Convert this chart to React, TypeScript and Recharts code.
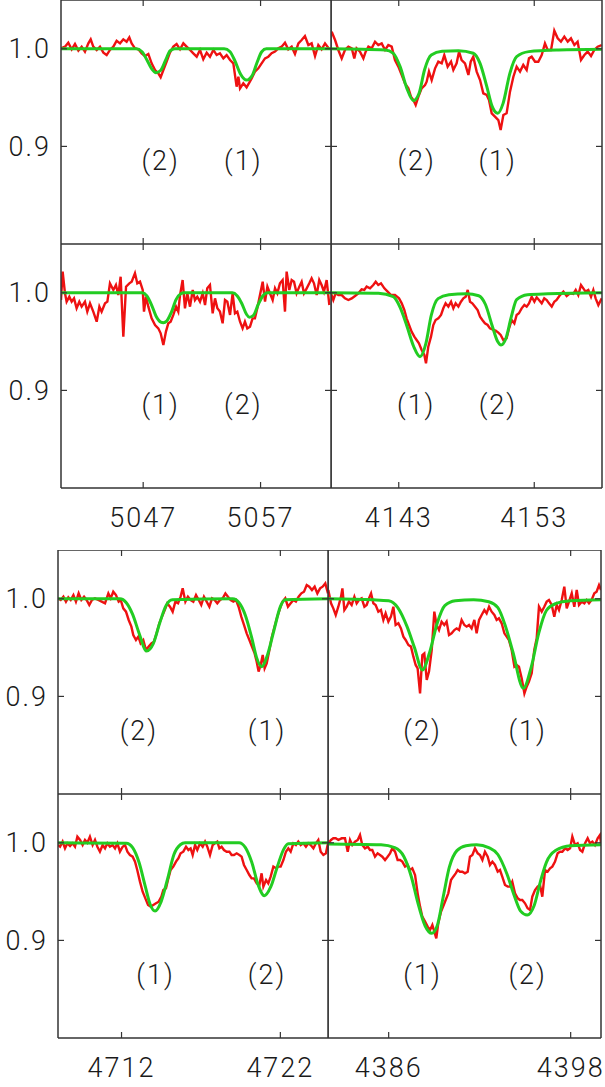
import React from "react"
import { LineChart, Line, XAxis, YAxis, ReferenceLine, ReferenceDot } from "recharts"

type Pt = [number, number]
type Lbl = { x: number; y: number; text: string }

const RED = "#ee1111"
const GREEN = "#22cc22"
const FRAME = "#333333"
const INK = "#1a1a1a"
const FONT = "Roboto, 'Liberation Sans', Arial, sans-serif"

// shared flux axis
const yDomain: [number, number] = [0.8, 1.05]
const yTicks = [0.9, 1.0]

// wavelength windows
const xDomain5050: [number, number] = [5040, 5063]
const xTicks5050 = [5047, 5057]
const xDomain4148: [number, number] = [4138, 4158]
const xTicks4148 = [4143, 4153]
const xDomain4716: [number, number] = [4708, 4725]
const xTicks4716 = [4712, 4722]
const xDomain4391: [number, number] = [4382, 4400]
const xTicks4391 = [4386, 4398]

// ---- top group, row 1 ----
const obsA: Pt[] = [[5040.0,1.0005],[5040.34,1.0022],[5040.62,1.0063],[5040.91,0.9995],[5041.19,1.0049],[5041.48,0.9981],[5041.76,1.0022],[5042.04,0.9971],[5042.33,1.0056],[5042.53,1.0097],[5042.75,1.0022],[5043.04,0.9988],[5043.32,1.0022],[5043.61,0.996],[5043.89,0.9936],[5044.17,0.9988],[5044.46,1.0022],[5044.74,1.0083],[5045.03,1.0056],[5045.31,1.0097],[5045.59,1.0073],[5045.82,1.0117],[5046.02,1.0056],[5046.3,1.0005],[5046.59,0.9995],[5046.87,0.9954],[5047.15,0.9926],[5047.44,0.9947],[5047.72,0.9851],[5048.01,0.9783],[5048.29,0.9749],[5048.49,0.9708],[5048.72,0.9783],[5049.0,0.9868],[5049.28,0.996],[5049.57,1.0022],[5049.85,1.0049],[5050.14,0.9995],[5050.42,1.0056],[5050.7,1.0022],[5050.99,0.9988],[5051.27,0.9954],[5051.56,0.9919],[5051.84,0.9988],[5052.12,0.9892],[5052.41,0.996],[5052.69,0.9919],[5052.98,0.9988],[5053.26,0.9936],[5053.54,0.9954],[5053.83,0.9902],[5054.11,0.9936],[5054.4,0.9885],[5054.68,0.9851],[5054.96,0.9612],[5055.11,0.9714],[5055.25,0.9595],[5055.53,0.9646],[5055.81,0.9605],[5056.04,0.9653],[5056.24,0.9697],[5056.52,0.9766],[5056.81,0.98],[5057.09,0.9851],[5057.38,0.9902],[5057.66,0.9919],[5057.94,0.9954],[5058.23,0.9971],[5058.51,1.0005],[5058.8,1.0022],[5059.08,1.0063],[5059.36,0.9995],[5059.65,1.0022],[5059.93,0.9947],[5060.22,1.0056],[5060.5,1.009],[5060.78,1.0131],[5061.07,1.0039],[5061.35,1.0056],[5061.64,0.9926],[5061.92,1.0039],[5062.2,0.9995],[5062.49,1.0056],[5062.86,0.9995]]
const fitA: Pt[] = [[5040,1.0],[5046.4,1.0],[5046.9,0.997],[5047.3,0.989],[5047.7,0.98],[5048.1,0.9755],[5048.5,0.978],[5048.9,0.988],[5049.3,0.998],[5049.7,1.0],[5053.9,1.0],[5054.4,0.997],[5054.8,0.988],[5055.3,0.974],[5055.8,0.968],[5056.3,0.973],[5056.7,0.986],[5057.1,0.997],[5057.5,1.0],[5063,1.0]]
const lblA: Lbl[] = [{ x: 5048.49, y: 0.886, text: "(2)" }, { x: 5055.53, y: 0.886, text: "(1)" }]

const obsB: Pt[] = [[4138.05,1.0176],[4138.3,1.009],[4138.54,0.9988],[4138.79,0.9902],[4139.03,0.9988],[4139.28,1.0022],[4139.53,1.0005],[4139.72,0.9902],[4139.89,1.0005],[4140.14,0.9971],[4140.39,0.9902],[4140.56,0.9971],[4140.76,1.0022],[4141.0,1.0005],[4141.25,1.0073],[4141.49,1.0039],[4141.74,1.0056],[4141.99,0.9988],[4142.23,1.0039],[4142.48,1.0022],[4142.72,0.9885],[4142.97,0.9817],[4143.22,0.9732],[4143.46,0.9646],[4143.71,0.9595],[4143.9,0.951],[4144.08,0.9475],[4144.25,0.9424],[4144.45,0.951],[4144.69,0.9595],[4144.94,0.9629],[4145.06,0.9663],[4145.23,0.9766],[4145.43,0.968],[4145.68,0.98],[4145.92,0.9868],[4146.17,0.9851],[4146.36,0.9936],[4146.61,0.9817],[4146.86,0.9868],[4147.03,0.9783],[4147.27,0.9851],[4147.45,0.9971],[4147.64,0.9885],[4147.89,0.9851],[4148.14,0.9732],[4148.31,0.9868],[4148.5,0.9919],[4148.75,0.9766],[4149.0,0.968],[4149.24,0.9544],[4149.49,0.9527],[4149.66,0.9475],[4149.86,0.9339],[4150.1,0.9305],[4150.35,0.927],[4150.52,0.9168],[4150.72,0.9322],[4150.96,0.9339],[4151.21,0.9561],[4151.46,0.9714],[4151.7,0.9817],[4151.95,0.9766],[4152.19,0.9834],[4152.44,0.9783],[4152.61,0.9902],[4152.81,0.9919],[4153.06,0.9868],[4153.3,0.9868],[4153.55,0.9936],[4153.79,1.0056],[4153.99,0.9988],[4154.24,0.9988],[4154.48,1.0186],[4154.73,1.0107],[4154.97,1.0073],[4155.22,1.0124],[4155.47,1.0073],[4155.71,1.0107],[4155.96,1.0039],[4156.2,1.0073],[4156.45,0.9885],[4156.7,0.9936],[4156.94,0.9971],[4157.19,0.9926],[4157.43,0.9988],[4157.68,1.0022],[4157.98,1.0039]]
const fitB: Pt[] = [[4138,1.0],[4142.0,0.9988],[4142.6,0.9954],[4143.1,0.9817],[4143.6,0.9595],[4144.08,0.9469],[4144.5,0.9544],[4144.9,0.9783],[4145.4,0.9936],[4146.2,0.9974],[4147.4,0.998],[4148.5,0.9954],[4149.0,0.9851],[4149.5,0.9612],[4149.9,0.9407],[4150.3,0.9339],[4150.7,0.9441],[4151.2,0.9749],[4151.7,0.9919],[4152.6,0.9971],[4154.8,0.9988],[4158,0.9995]]
const lblB: Lbl[] = [{ x: 4144.32, y: 0.886, text: "(2)" }, { x: 4150.3, y: 0.886, text: "(1)" }]

// ---- top group, row 2 ----
const obsC: Pt[] = [[5040.0,0.9926],[5040.14,1.0217],[5040.34,0.9995],[5040.48,0.9909],[5040.71,0.996],[5040.91,0.9909],[5041.11,0.9943],[5041.33,0.9841],[5041.56,0.9909],[5041.76,0.9858],[5042.04,0.9909],[5042.24,0.9807],[5042.47,0.9892],[5042.75,0.9807],[5043.04,0.9704],[5043.27,0.9858],[5043.46,0.9807],[5043.75,0.9892],[5043.95,0.9909],[5044.17,1.0097],[5044.46,1.0029],[5044.68,1.008],[5044.88,0.9977],[5045.08,1.0165],[5045.31,0.9551],[5045.54,1.0063],[5045.82,1.0097],[5046.02,1.0114],[5046.3,1.02],[5046.5,1.0097],[5046.73,1.0114],[5046.96,1.0029],[5047.07,0.9807],[5047.24,0.996],[5047.44,0.9858],[5047.72,0.9738],[5048.01,0.967],[5048.29,0.9636],[5048.49,0.9585],[5048.72,0.9465],[5048.94,0.9602],[5049.14,0.9687],[5049.34,0.9704],[5049.57,0.9773],[5049.8,0.9858],[5049.99,0.9807],[5050.14,0.9977],[5050.36,1.0131],[5050.56,0.9841],[5050.76,0.9995],[5050.99,0.9858],[5051.22,1.0029],[5051.41,0.9926],[5051.61,0.996],[5051.84,0.9909],[5052.07,0.9995],[5052.27,0.9875],[5052.46,1.0046],[5052.69,1.008],[5052.92,0.979],[5053.12,0.9943],[5053.32,0.9841],[5053.54,0.9807],[5053.77,0.9687],[5053.97,0.9926],[5054.17,0.9909],[5054.4,0.9773],[5054.62,0.9995],[5054.82,0.979],[5055.02,0.9807],[5055.25,0.9704],[5055.47,0.9636],[5055.67,0.9704],[5055.87,0.9636],[5056.1,0.9653],[5056.32,0.9738],[5056.52,0.9738],[5056.72,0.9841],[5056.95,0.9977],[5057.18,1.0114],[5057.38,0.9909],[5057.58,1.0063],[5057.8,0.9995],[5058.03,0.9926],[5058.23,1.0046],[5058.43,0.9995],[5058.65,1.0097],[5058.88,1.0131],[5059.08,0.9807],[5059.22,1.0217],[5059.45,1.0029],[5059.65,1.0131],[5059.85,1.0114],[5060.07,0.9995],[5060.3,1.0063],[5060.5,1.0114],[5060.7,0.9995],[5060.93,1.0046],[5061.15,1.0097],[5061.35,1.0148],[5061.55,1.0097],[5061.78,0.9977],[5062.0,1.0131],[5062.2,1.008],[5062.4,1.0012],[5062.63,1.0131],[5062.86,0.9875]]
const fitC: Pt[] = [[5040,1.0],[5046.9,1.0],[5047.3,0.997],[5047.7,0.988],[5048.1,0.976],[5048.5,0.97],[5048.72,0.9694],[5049.0,0.971],[5049.4,0.98],[5049.8,0.993],[5050.2,0.999],[5050.5,1.0],[5054.6,1.0],[5055.0,0.997],[5055.4,0.989],[5055.8,0.978],[5056.04,0.975],[5056.4,0.977],[5056.8,0.988],[5057.2,0.997],[5057.6,1.0],[5063,1.0]]
const lblC: Lbl[] = [{ x: 5048.49, y: 0.886, text: "(1)" }, { x: 5055.53, y: 0.886, text: "(2)" }]

const obsD: Pt[] = [[4138.0,0.9995],[4138.17,0.9926],[4138.34,0.9995],[4138.54,0.9977],[4138.79,0.9977],[4139.03,0.9943],[4139.28,0.9926],[4139.53,0.9943],[4139.77,0.9967],[4140.02,0.9995],[4140.26,1.0036],[4140.46,1.0029],[4140.63,1.0063],[4140.88,1.0046],[4141.12,1.008],[4141.3,1.0114],[4141.49,1.008],[4141.69,1.0097],[4141.94,1.0046],[4142.18,1.0012],[4142.43,0.9977],[4142.72,0.9977],[4143.02,0.9943],[4143.22,0.9892],[4143.41,0.9824],[4143.58,0.9738],[4143.76,0.967],[4143.95,0.9602],[4144.15,0.9551],[4144.32,0.9516],[4144.49,0.9482],[4144.69,0.9414],[4144.89,0.9363],[4145.01,0.9277],[4145.18,0.9448],[4145.38,0.9551],[4145.55,0.967],[4145.72,0.9721],[4145.92,0.9738],[4146.12,0.9773],[4146.29,0.9841],[4146.46,0.9892],[4146.66,0.9858],[4146.86,0.9909],[4147.03,0.9841],[4147.2,0.9892],[4147.4,0.9858],[4147.59,0.9909],[4147.77,0.9943],[4147.94,0.996],[4148.09,1.0029],[4148.26,0.9909],[4148.43,0.9892],[4148.63,0.9858],[4148.82,0.9824],[4149.0,0.9756],[4149.17,0.9721],[4149.36,0.9687],[4149.56,0.967],[4149.73,0.9636],[4149.98,0.9619],[4150.15,0.9612],[4150.35,0.9592],[4150.52,0.9568],[4150.72,0.9516],[4150.96,0.9534],[4151.14,0.9636],[4151.33,0.9721],[4151.53,0.9687],[4151.7,0.9773],[4151.87,0.979],[4152.07,0.9841],[4152.27,0.9875],[4152.44,0.9858],[4152.61,0.9892],[4152.81,0.996],[4153.01,0.9909],[4153.18,0.9954],[4153.35,0.9926],[4153.55,0.9892],[4153.74,0.9943],[4153.92,0.9926],[4154.09,0.9892],[4154.29,0.9858],[4154.48,0.9909],[4154.65,0.9926],[4154.9,0.9977],[4155.15,1.0012],[4155.39,0.9967],[4155.64,0.9995],[4155.88,0.9988],[4156.06,1.0029],[4156.25,0.9977],[4156.45,1.008],[4156.62,1.0046],[4156.79,1.0012],[4156.99,1.0029],[4157.19,0.996],[4157.36,1.0029],[4157.53,0.9943],[4157.73,0.9875],[4157.98,0.9943]]
const fitD: Pt[] = [[4138,1.0],[4141.5,0.9995],[4142.6,0.996],[4143.1,0.985],[4143.6,0.966],[4144.1,0.945],[4144.57,0.9346],[4145.0,0.948],[4145.4,0.977],[4145.9,0.994],[4146.7,0.998],[4148.0,0.999],[4148.9,0.997],[4149.4,0.988],[4149.9,0.966],[4150.3,0.95],[4150.55,0.9465],[4150.9,0.953],[4151.3,0.975],[4151.7,0.993],[4152.5,0.998],[4154,0.999],[4158,1.0]]
const lblD: Lbl[] = [{ x: 4144.29, y: 0.886, text: "(1)" }, { x: 4150.32, y: 0.886, text: "(2)" }]

// ---- bottom group, row 1 ----
const obsE: Pt[] = [[4708.0,1.0005],[4708.17,0.9988],[4708.34,1.0022],[4708.5,0.9971],[4708.65,1.0015],[4708.8,0.9988],[4708.97,1.0039],[4709.13,0.9971],[4709.3,1.0056],[4709.47,0.9988],[4709.64,1.0022],[4709.8,0.9988],[4709.97,0.9937],[4710.14,0.9988],[4710.33,1.0005],[4710.54,0.9988],[4710.75,0.9971],[4710.96,0.9954],[4711.17,1.0056],[4711.32,1.0005],[4711.48,1.0073],[4711.65,1.0039],[4711.82,0.9971],[4711.95,0.9988],[4712.11,0.9902],[4712.28,0.9868],[4712.45,0.9783],[4712.62,0.9715],[4712.74,0.9629],[4712.91,0.9578],[4713.06,0.9612],[4713.2,0.9544],[4713.37,0.9578],[4713.54,0.9476],[4713.71,0.951],[4713.88,0.9544],[4714.04,0.9561],[4714.21,0.9646],[4714.38,0.9749],[4714.55,0.9817],[4714.72,0.9885],[4714.88,0.9954],[4715.05,0.9919],[4715.22,0.9868],[4715.39,0.9971],[4715.56,0.9954],[4715.72,1.0022],[4715.85,1.0107],[4716.02,0.9971],[4716.18,1.0022],[4716.35,0.9988],[4716.52,0.9971],[4716.69,1.0039],[4716.86,0.9988],[4717.02,0.9937],[4717.19,1.0022],[4717.36,0.9971],[4717.53,0.9919],[4717.7,1.0005],[4717.86,0.9988],[4718.03,0.9954],[4718.2,0.9988],[4718.37,1.0005],[4718.54,1.0056],[4718.7,1.0022],[4718.87,0.9988],[4719.04,0.9971],[4719.21,0.9988],[4719.37,0.9919],[4719.54,0.9817],[4719.71,0.9732],[4719.88,0.9646],[4720.05,0.9578],[4720.21,0.951],[4720.38,0.9441],[4720.51,0.9356],[4720.63,0.9254],[4720.76,0.9322],[4720.89,0.9424],[4721.01,0.9288],[4721.14,0.9339],[4721.31,0.9476],[4721.47,0.9612],[4721.64,0.9715],[4721.81,0.9817],[4721.98,0.9902],[4722.14,0.9971],[4722.31,1.0005],[4722.48,0.9919],[4722.65,0.9954],[4722.82,0.9988],[4722.98,0.9971],[4723.15,1.0022],[4723.32,1.0056],[4723.49,1.0073],[4723.66,1.0141],[4723.82,1.0124],[4723.99,1.009],[4724.16,1.0124],[4724.33,1.0056],[4724.5,1.0107],[4724.66,1.0124],[4724.83,1.0158],[4725.0,1.0056]]
const fitE: Pt[] = [[4708,1.0],[4711.9,1.0],[4712.3,0.996],[4712.7,0.984],[4713.1,0.965],[4713.58,0.9465],[4714.0,0.954],[4714.4,0.975],[4714.8,0.993],[4715.2,0.999],[4719.0,1.0],[4719.4,0.996],[4719.8,0.983],[4720.2,0.96],[4720.5,0.94],[4720.82,0.9305],[4721.2,0.943],[4721.6,0.968],[4722.0,0.992],[4722.3,0.999],[4725,1.0]]
const lblE: Lbl[] = [{ x: 4713.09, y: 0.865, text: "(2)" }, { x: 4721.16, y: 0.865, text: "(1)" }]

const obsF: Pt[] = [[4382.02,1.009],[4382.2,0.9954],[4382.35,0.9902],[4382.51,0.9834],[4382.68,0.9919],[4382.86,1.0022],[4382.95,1.0107],[4383.08,0.9885],[4383.23,0.9919],[4383.38,0.9971],[4383.56,0.9937],[4383.74,1.0022],[4383.89,0.9954],[4384.04,0.9988],[4384.22,1.0005],[4384.4,0.9919],[4384.55,0.9937],[4384.7,1.0005],[4384.84,1.0056],[4384.99,0.9954],[4385.14,0.9937],[4385.32,0.9868],[4385.49,0.9885],[4385.65,0.9783],[4385.8,0.9851],[4385.98,0.9766],[4386.15,0.9817],[4386.31,0.9919],[4386.46,0.9732],[4386.64,0.9749],[4386.81,0.9697],[4386.97,0.9612],[4387.12,0.9578],[4387.3,0.9527],[4387.47,0.951],[4387.63,0.9407],[4387.78,0.9322],[4387.91,0.9288],[4388.07,0.9031],[4388.22,0.9424],[4388.35,0.9441],[4388.51,0.9168],[4388.66,0.9254],[4388.84,0.9476],[4389.01,0.9868],[4389.16,0.9732],[4389.32,0.968],[4389.49,0.9766],[4389.67,0.9732],[4389.82,0.9766],[4389.98,0.9629],[4390.15,0.9646],[4390.33,0.968],[4390.48,0.9697],[4390.64,0.968],[4390.81,0.9783],[4390.99,0.9732],[4391.14,0.9715],[4391.3,0.9732],[4391.47,0.9697],[4391.65,0.9783],[4391.8,0.9646],[4391.96,0.9783],[4392.13,0.9834],[4392.31,0.9885],[4392.46,0.9851],[4392.62,0.9919],[4392.79,0.9868],[4392.97,0.9834],[4393.12,0.9783],[4393.27,0.98],[4393.45,0.9749],[4393.63,0.9646],[4393.78,0.9612],[4393.93,0.9578],[4394.11,0.9476],[4394.29,0.9305],[4394.44,0.9322],[4394.59,0.9305],[4394.77,0.9185],[4394.95,0.9031],[4395.1,0.91],[4395.25,0.9151],[4395.43,0.9237],[4395.6,0.9476],[4395.76,0.9595],[4395.91,0.9919],[4396.09,0.9868],[4396.26,0.9919],[4396.42,0.9971],[4396.57,0.9988],[4396.75,0.9937],[4396.92,0.9817],[4397.08,0.9937],[4397.23,0.9885],[4397.41,0.9988],[4397.58,1.0124],[4397.74,0.9902],[4397.89,0.9971],[4398.07,1.0056],[4398.24,0.9919],[4398.4,1.009],[4398.55,0.9937],[4398.73,0.9971],[4398.9,0.9954],[4399.05,0.9988],[4399.21,0.9954],[4399.38,0.9988],[4399.56,1.0056],[4399.71,1.0073],[4399.87,1.0141],[4400.0,1.009]]
const fitF: Pt[] = [[4382,1.0],[4385.0,0.999],[4386.0,0.998],[4386.6,0.991],[4387.2,0.972],[4387.7,0.95],[4388.22,0.9271],[4388.7,0.945],[4389.2,0.975],[4389.7,0.993],[4390.4,0.998],[4391.6,0.999],[4392.6,0.997],[4393.2,0.991],[4393.7,0.972],[4394.2,0.945],[4394.88,0.9083],[4395.4,0.93],[4395.9,0.965],[4396.4,0.988],[4397.0,0.995],[4398,0.998],[4400,0.999]]
const lblF: Lbl[] = [{ x: 4388.23, y: 0.865, text: "(2)" }, { x: 4395.16, y: 0.865, text: "(1)" }]

// ---- bottom group, row 2 ----
const obsG: Pt[] = [[4708.0,0.9977],[4708.13,0.996],[4708.29,1.0012],[4708.44,0.9943],[4708.59,0.9995],[4708.76,0.9967],[4708.92,0.9995],[4709.07,0.996],[4709.22,1.0063],[4709.39,1.0029],[4709.55,0.9977],[4709.7,1.0029],[4709.85,1.0001],[4710.01,1.0063],[4710.18,0.9977],[4710.33,1.0029],[4710.48,0.996],[4710.64,0.9909],[4710.81,0.9977],[4710.96,0.9943],[4711.11,0.9995],[4711.27,0.996],[4711.44,0.9977],[4711.59,0.9943],[4711.74,0.9995],[4711.9,0.9909],[4712.07,0.996],[4712.22,0.9977],[4712.37,0.9909],[4712.53,0.9875],[4712.7,0.9858],[4712.85,0.9807],[4712.99,0.9721],[4713.16,0.9602],[4713.33,0.9499],[4713.5,0.9431],[4713.67,0.9363],[4713.83,0.9346],[4714.0,0.9363],[4714.17,0.938],[4714.34,0.9397],[4714.51,0.9448],[4714.63,0.9516],[4714.8,0.9534],[4714.95,0.9636],[4715.09,0.9721],[4715.26,0.9756],[4715.43,0.9807],[4715.58,0.9841],[4715.72,0.9892],[4715.89,0.9909],[4716.06,0.996],[4716.21,0.9926],[4716.35,0.9943],[4716.48,0.9875],[4716.63,0.9977],[4716.77,0.9926],[4716.94,0.9995],[4717.11,0.996],[4717.26,1.0012],[4717.4,0.996],[4717.57,0.9875],[4717.74,0.9977],[4717.88,0.9995],[4718.03,1.0012],[4718.16,0.9943],[4718.3,0.996],[4718.45,0.9926],[4718.62,0.9909],[4718.79,0.9909],[4718.93,0.9875],[4719.08,0.9875],[4719.25,0.9892],[4719.42,0.9875],[4719.56,0.9858],[4719.71,0.9773],[4719.88,0.9721],[4720.05,0.967],[4720.19,0.9636],[4720.34,0.9636],[4720.51,0.9585],[4720.68,0.9568],[4720.82,0.9687],[4720.93,0.9551],[4721.1,0.9619],[4721.24,0.9585],[4721.39,0.9653],[4721.56,0.9756],[4721.73,0.9738],[4721.87,0.9756],[4722.02,0.9756],[4722.19,0.9824],[4722.35,0.9909],[4722.5,0.9943],[4722.65,0.9909],[4722.82,0.9995],[4722.98,0.9977],[4723.13,1.0012],[4723.28,0.9977],[4723.45,0.9995],[4723.61,0.996],[4723.76,0.9995],[4723.91,0.9977],[4724.08,0.9943],[4724.24,0.9995],[4724.39,1.0029],[4724.54,0.9909],[4724.71,0.9875],[4724.87,0.9892],[4725.0,0.9995]]
const fitG: Pt[] = [[4708,1.0],[4712.3,0.9995],[4712.7,0.995],[4713.1,0.98],[4713.5,0.955],[4713.8,0.937],[4714.11,0.93],[4714.5,0.94],[4714.9,0.963],[4715.3,0.988],[4715.7,0.998],[4716.0,1.0],[4719.4,1.0],[4719.8,0.995],[4720.2,0.98],[4720.6,0.957],[4720.99,0.9458],[4721.4,0.955],[4721.8,0.975],[4722.2,0.993],[4722.5,0.999],[4725,1.0]]
const lblG: Lbl[] = [{ x: 4714.14, y: 0.865, text: "(1)" }, { x: 4721.16, y: 0.865, text: "(2)" }]

const obsH: Pt[] = [[4382.02,0.9995],[4382.2,1.0029],[4382.35,1.0046],[4382.51,1.0046],[4382.68,1.0029],[4382.9,1.0046],[4383.12,1.0046],[4383.3,0.9909],[4383.45,1.0029],[4383.6,0.9977],[4383.78,1.0012],[4383.96,1.0029],[4384.11,1.008],[4384.26,0.9977],[4384.44,0.9943],[4384.62,0.996],[4384.77,0.9926],[4384.92,0.9926],[4385.1,0.9858],[4385.27,0.9892],[4385.43,0.9875],[4385.58,0.9858],[4385.76,0.9824],[4385.93,0.9858],[4386.09,0.9892],[4386.24,0.9943],[4386.42,0.9909],[4386.59,0.9824],[4386.75,0.9824],[4386.9,0.9807],[4387.08,0.9756],[4387.25,0.9773],[4387.41,0.9721],[4387.56,0.9738],[4387.74,0.967],[4387.91,0.9482],[4388.07,0.9346],[4388.22,0.9243],[4388.4,0.9192],[4388.57,0.9141],[4388.73,0.9107],[4388.88,0.9158],[4389.01,0.909],[4389.14,0.9021],[4389.27,0.9175],[4389.45,0.9294],[4389.63,0.9363],[4389.76,0.9414],[4389.93,0.9482],[4390.11,0.9619],[4390.26,0.9653],[4390.42,0.9687],[4390.55,0.9721],[4390.7,0.9704],[4390.86,0.9704],[4391.03,0.9687],[4391.21,0.9704],[4391.36,0.9858],[4391.52,0.9875],[4391.69,0.9943],[4391.87,0.9892],[4392.02,0.9875],[4392.18,0.9824],[4392.35,0.9909],[4392.53,0.9858],[4392.68,0.9773],[4392.84,0.9807],[4393.01,0.9773],[4393.19,0.9704],[4393.34,0.9721],[4393.49,0.9653],[4393.67,0.9568],[4393.85,0.9551],[4394.0,0.9551],[4394.15,0.9602],[4394.33,0.9482],[4394.51,0.9431],[4394.66,0.9414],[4394.81,0.9414],[4394.99,0.938],[4395.16,0.9329],[4395.32,0.9312],[4395.47,0.9448],[4395.65,0.9516],[4395.82,0.9551],[4395.98,0.9568],[4396.13,0.9448],[4396.31,0.9721],[4396.48,0.9704],[4396.64,0.9738],[4396.79,0.9756],[4396.97,0.9807],[4397.14,0.9892],[4397.3,0.9909],[4397.45,0.9909],[4397.63,0.9943],[4397.8,0.9926],[4397.96,0.9943],[4398.11,1.0063],[4398.29,0.9977],[4398.46,0.9995],[4398.62,0.9926],[4398.77,0.9909],[4398.95,0.9995],[4399.12,1.0046],[4399.27,0.9995],[4399.43,1.0012],[4399.6,0.9977],[4399.78,1.0046],[4399.93,1.008],[4400.0,0.9995]]
const fitH: Pt[] = [[4382,0.9988],[4385.5,0.998],[4386.4,0.995],[4387.0,0.986],[4387.5,0.965],[4387.9,0.94],[4388.4,0.915],[4388.84,0.9072],[4389.2,0.915],[4389.6,0.945],[4390.0,0.975],[4390.5,0.992],[4391.1,0.997],[4391.8,0.998],[4392.6,0.995],[4393.2,0.988],[4393.8,0.968],[4394.3,0.945],[4394.7,0.93],[4395.14,0.926],[4395.6,0.936],[4396.0,0.96],[4396.4,0.98],[4397.0,0.992],[4398,0.997],[4400,0.998]]
const lblH: Lbl[] = [{ x: 4388.23, y: 0.865, text: "(1)" }, { x: 4395.16, y: 0.865, text: "(2)" }]

const toRows = (pts: Pt[]) => pts.map(([x, y]) => ({ x, y }))

const txtStyle = { fontFamily: FONT, fontSize: 27, fontWeight: 300, letterSpacing: 2 }

const YTick = (props: any) => (
    <text x={props.x} y={props.y} dy="0.355em" textAnchor="end" fill={INK} style={txtStyle}>
        {Number(props.payload.value).toFixed(1)}
    </text>
)

const XTick = (props: any) => (
    <text x={props.x} y={props.y} dy="0.71em" textAnchor="middle" fill={INK} style={txtStyle}>
        {props.payload.value}
    </text>
)

interface PanelProps {
    left: number
    top: number
    plotW: number
    xDomain: [number, number]
    xTicks: number[]
    obs: Pt[]
    fit: Pt[]
    labels: Lbl[]
    yAxisW?: number
    showX?: boolean
}

const PLOT_H = 244
const TICK_PX = 6
const PAD_R = 8 // room for the last tick label

const Panel = ({ left, top, plotW, xDomain, xTicks, obs, fit, labels, yAxisW = 0, showX = false }: PanelProps) => {
    const xAxisH = showX ? 50 : 0
    const tx = (TICK_PX * (xDomain[1] - xDomain[0])) / plotW
    const ty = (TICK_PX * (yDomain[1] - yDomain[0])) / PLOT_H

    return (
        <div style={{ position: "absolute", left: left - yAxisW, top }}>
            <LineChart
                width={plotW + yAxisW + PAD_R}
                height={PLOT_H + xAxisH}
                margin={{ top: 0, right: PAD_R, bottom: 0, left: 0 }}
            >
                <XAxis
                    type="number"
                    dataKey="x"
                    domain={xDomain}
                    ticks={xTicks}
                    allowDataOverflow
                    hide={!showX}
                    height={xAxisH || 1}
                    axisLine={false}
                    tickLine={false}
                    tickSize={0}
                    tickMargin={20}
                    tick={<XTick />}
                />
                <YAxis
                    type="number"
                    domain={yDomain}
                    ticks={yTicks}
                    allowDataOverflow
                    hide={!yAxisW}
                    width={yAxisW || 1}
                    axisLine={false}
                    tickLine={false}
                    tickSize={0}
                    tickMargin={10}
                    tick={<YTick />}
                />

                <Line data={toRows(obs)} dataKey="y" type="linear" stroke={RED} strokeWidth={2.4} dot={false} activeDot={false} isAnimationActive={false} />
                <Line data={toRows(fit)} dataKey="y" type="monotone" stroke={GREEN} strokeWidth={3} dot={false} activeDot={false} isAnimationActive={false} />

                {/* frame */}
                <ReferenceLine x={xDomain[0]} stroke={FRAME} strokeWidth={1.5} />
                <ReferenceLine x={xDomain[1]} stroke={FRAME} strokeWidth={1.5} />
                <ReferenceLine y={yDomain[0]} stroke={FRAME} strokeWidth={1.5} />
                <ReferenceLine y={yDomain[1]} stroke={FRAME} strokeWidth={1.5} />

                {/* inward ticks */}
                {xTicks.map((t) => (
                    <ReferenceLine key={"b" + t} segment={[{ x: t, y: yDomain[0] }, { x: t, y: yDomain[0] + ty }]} stroke={FRAME} strokeWidth={1.2} />
                ))}
                {xTicks.map((t) => (
                    <ReferenceLine key={"t" + t} segment={[{ x: t, y: yDomain[1] }, { x: t, y: yDomain[1] - ty }]} stroke={FRAME} strokeWidth={1.2} />
                ))}
                {yTicks.map((v) => (
                    <ReferenceLine key={"l" + v} segment={[{ x: xDomain[0], y: v }, { x: xDomain[0] + tx, y: v }]} stroke={FRAME} strokeWidth={1.2} />
                ))}
                {yTicks.map((v) => (
                    <ReferenceLine key={"r" + v} segment={[{ x: xDomain[1], y: v }, { x: xDomain[1] - tx, y: v }]} stroke={FRAME} strokeWidth={1.2} />
                ))}

                {labels.map((l) => (
                    <ReferenceDot
                        key={l.text + l.x}
                        x={l.x}
                        y={l.y}
                        r={1}
                        shape={(p: any) => (
                            <text x={p.cx} y={p.cy} dy="0.355em" textAnchor="middle" fill={INK} style={txtStyle}>
                                {l.text}
                            </text>
                        )}
                    />
                ))}
            </LineChart>
        </div>
    )
}

export default function App() {
    return (
        <div style={{ position: "absolute", left: 0, top: 0, width: 605, height: 1087, background: "#fff", overflow: "hidden" }}>
            <Panel left={61} top={0} plotW={270} xDomain={xDomain5050} xTicks={xTicks5050} obs={obsA} fit={fitA} labels={lblA} yAxisW={61} />
            <Panel left={331} top={0} plotW={271} xDomain={xDomain4148} xTicks={xTicks4148} obs={obsB} fit={fitB} labels={lblB} />
            <Panel left={61} top={244} plotW={270} xDomain={xDomain5050} xTicks={xTicks5050} obs={obsC} fit={fitC} labels={lblC} yAxisW={61} showX />
            <Panel left={331} top={244} plotW={271} xDomain={xDomain4148} xTicks={xTicks4148} obs={obsD} fit={fitD} labels={lblD} showX />

            <Panel left={58} top={550} plotW={270} xDomain={xDomain4716} xTicks={xTicks4716} obs={obsE} fit={fitE} labels={lblE} yAxisW={58} />
            <Panel left={328} top={550} plotW={273} xDomain={xDomain4391} xTicks={xTicks4391} obs={obsF} fit={fitF} labels={lblF} />
            <Panel left={58} top={794} plotW={270} xDomain={xDomain4716} xTicks={xTicks4716} obs={obsG} fit={fitG} labels={lblG} yAxisW={58} showX />
            <Panel left={328} top={794} plotW={273} xDomain={xDomain4391} xTicks={xTicks4391} obs={obsH} fit={fitH} labels={lblH} showX />
        </div>
    )
}
